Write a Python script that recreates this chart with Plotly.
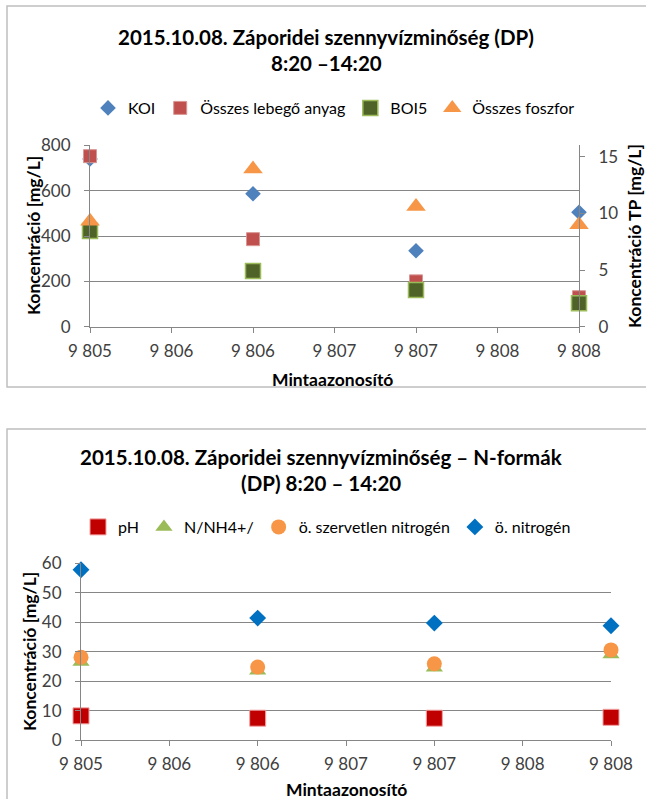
import plotly.graph_objects as go

# ---------------- data ----------------
samples = [9805, 9806, 9807, 9808]
x_tick_vals = [9805, 9805.5, 9806, 9806.5, 9807, 9807.5, 9808]
x_tick_text = ["9 805", "9 806", "9 806", "9 807", "9 807", "9 808", "9 808"]

# top chart (left axis mg/L, right axis TP mg/L)
koi = [740, 586, 335, 505]
osszes_lebego = [752, 386, 200, 130]
boi5 = [422, 246, 162, 103]
osszes_foszfor = [9.3, 13.9, 10.6, 9.0]

# bottom chart
ph = [8.2, 7.4, 7.4, 7.7]
n_nh4 = [26.5, 23.5, 24.5, 29.0]
szervetlen_n = [28.1, 24.8, 25.9, 30.6]
ossz_n = [57.8, 41.4, 39.7, 38.8]

W, H = 646, 799
def px(x):
    return x / W
def py(y):
    return 1 - y / H

FONT = "Lato"
GRID = "#868686"
TICKC = "#404040"

fig = go.Figure()

# top chart traces
fig.add_trace(go.Scatter(x=samples, y=koi, mode="markers", name="KOI", cliponaxis=False,
                         marker=dict(symbol="diamond", size=12, color="#4F81BD"),
                         xaxis="x", yaxis="y", legend="legend"))
fig.add_trace(go.Scatter(x=samples, y=osszes_lebego, mode="markers", name="Összes lebegő anyag",
                         cliponaxis=False,
                         marker=dict(symbol="square", size=13, color="#C0504D",
                                     line=dict(color="#D99694", width=1)),
                         xaxis="x", yaxis="y", legend="legend"))
fig.add_trace(go.Scatter(x=samples, y=boi5, mode="markers", name="BOI5", cliponaxis=False,
                         marker=dict(symbol="square", size=15, color="#4F6228",
                                     line=dict(color="#9BBB59", width=1.5)),
                         xaxis="x", yaxis="y", legend="legend"))
fig.add_trace(go.Scatter(x=samples, y=osszes_foszfor, mode="markers", name="Összes foszfor",
                         cliponaxis=False,
                         marker=dict(symbol="triangle-up", size=17, color="#F79646"),
                         xaxis="x", yaxis="y2", legend="legend"))

# bottom chart traces
fig.add_trace(go.Scatter(x=samples, y=ph, mode="markers", name="pH", cliponaxis=False,
                         marker=dict(symbol="square", size=16, color="#C00000",
                                     line=dict(color="#F2A0A0", width=1)),
                         xaxis="x2", yaxis="y3", legend="legend2"))
fig.add_trace(go.Scatter(x=samples, y=n_nh4, mode="markers", name="N/NH4+/", cliponaxis=False,
                         marker=dict(symbol="triangle-up", size=15, color="#9BBB59"),
                         xaxis="x2", yaxis="y3", legend="legend2"))
fig.add_trace(go.Scatter(x=samples, y=szervetlen_n, mode="markers", name="ö. szervetlen nitrogén",
                         cliponaxis=False,
                         marker=dict(symbol="circle", size=15, color="#F79646"),
                         xaxis="x2", yaxis="y3", legend="legend2"))
fig.add_trace(go.Scatter(x=samples, y=ossz_n, mode="markers", name="ö. nitrogén", cliponaxis=False,
                         marker=dict(symbol="diamond", size=13, color="#0070C0"),
                         xaxis="x2", yaxis="y3", legend="legend2"))

tickfont = dict(family=FONT, size=17, color=TICKC)

xcommon = dict(range=[samples[0], samples[-1]], tickmode="array", tickvals=x_tick_vals,
               ticktext=x_tick_text, showline=True, linecolor=GRID, linewidth=1,
               ticks="outside", ticklen=5, tickcolor=GRID, showgrid=False,
               zeroline=False, tickfont=tickfont, ticklabelstandoff=4, automargin=False)

ycommon = dict(showline=True, linecolor=GRID, ticks="outside", ticklen=5, tickcolor=GRID,
               zeroline=False, tickfont=tickfont, ticklabelstandoff=10, automargin=False)

legend_font = dict(family=FONT, size=16, color="#000000")

fig.update_layout(
    width=W, height=H, autosize=False,
    margin=dict(l=0, r=0, t=0, b=0, pad=0),
    paper_bgcolor="white", plot_bgcolor="white",
    font=dict(family=FONT, color="#000000"),
    showlegend=True,
    xaxis=dict(domain=[px(90), px(579)], anchor="y", **xcommon),
    yaxis=dict(domain=[py(326.7), py(145.3)], anchor="x", range=[0, 800], dtick=200,
               showgrid=True, gridcolor=GRID, gridwidth=1, **ycommon),
    yaxis2=dict(overlaying="y", side="right", anchor="x", range=[0, 16], dtick=5,
                showgrid=False, **ycommon),
    xaxis2=dict(domain=[px(81), px(611)], anchor="y3", **xcommon),
    yaxis3=dict(domain=[py(740), py(563.3)], anchor="x2", range=[0, 60], dtick=10,
                showgrid=True, gridcolor=GRID, gridwidth=1, **ycommon),
    legend=dict(orientation="h", x=px(334), xanchor="center", y=py(108), yanchor="middle",
                font=legend_font, bgcolor="rgba(0,0,0,0)", itemwidth=30, tracegroupgap=0),
    legend2=dict(orientation="h", x=px(327), xanchor="center", y=py(527), yanchor="middle",
                 font=legend_font, bgcolor="rgba(0,0,0,0)", itemwidth=30, tracegroupgap=0),
)

# frames around the two charts
fig.add_shape(type="rect", xref="paper", yref="paper", x0=px(7), x1=1.02, y0=py(387), y1=py(6),
              line=dict(color="#BFBFBF", width=1.5), fillcolor="rgba(0,0,0,0)", layer="below")
fig.add_shape(type="rect", xref="paper", yref="paper", x0=px(7), x1=1.02, y0=-0.02, y1=py(429),
              line=dict(color="#BFBFBF", width=1.5), fillcolor="rgba(0,0,0,0)", layer="below")

title_font = dict(family=FONT, size=20.5, color="#000000")
axis_title_font = dict(family=FONT, size=17.5, color="#000000")

annotations = [
    dict(text="<b>2015.10.08. Záporidei szennyvízminőség (DP)</b>", x=px(326), y=py(37)),
    dict(text="<b>8:20 –14:20</b>", x=px(326), y=py(63)),
    dict(text="<b>2015.10.08. Záporidei szennyvízminőség – N-formák</b>", x=px(321), y=py(457)),
    dict(text="<b>(DP) 8:20 – 14:20</b>", x=px(321), y=py(483)),
]
for a in annotations:
    fig.add_annotation(xref="paper", yref="paper", xanchor="center", yanchor="middle",
                       showarrow=False, font=title_font, **a)

axis_titles = [
    dict(text="<b>Mintaazonosító</b>", x=px(332), y=py(379), textangle=0),
    dict(text="<b>Koncentráció [mg/L]</b>", x=px(33), y=py(236), textangle=-90),
    dict(text="<b>Koncentráció TP [mg/L]</b>", x=px(634), y=py(236), textangle=-90),
    dict(text="<b>Mintaazonosító</b>", x=px(346), y=py(789), textangle=0),
    dict(text="<b>Koncentráció [mg/L]</b>", x=px(29), y=py(652), textangle=-90),
]
for a in axis_titles:
    fig.add_annotation(xref="paper", yref="paper", xanchor="center", yanchor="middle",
                       showarrow=False, font=axis_title_font, **a)

fig.write_html("out.html", config={"displayModeBar": False},
               post_script="document.body.style.margin='0';document.body.style.overflow='hidden';")
